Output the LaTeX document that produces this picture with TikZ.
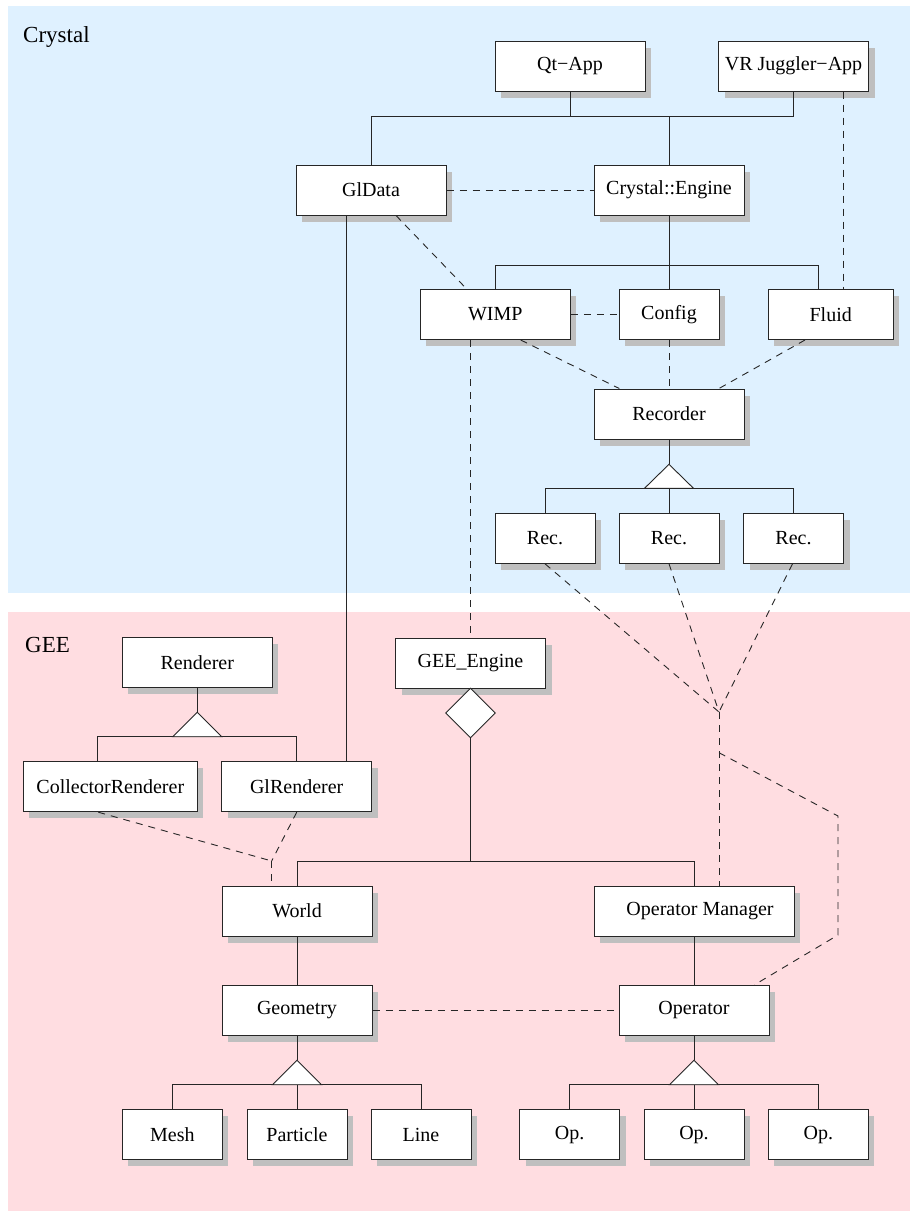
\documentclass[tikz,border=0pt]{standalone}
\usepackage{fontspec}
\setmainfont{Liberation Serif}
\usetikzlibrary{shapes.geometric}
\definecolor{crystalbg}{RGB}{223,241,255}
\definecolor{geebg}{RGB}{255,221,225}
\definecolor{shadowgray}{RGB}{191,191,191}
\tikzset{
  box/.style={draw=black!85, line width=1pt, fill=white, minimum height=50pt,
    minimum width=150pt, inner sep=0pt, font=\fontsize{20}{24}\selectfont,
    preaction={fill=shadowgray, transform canvas={xshift=6pt,yshift=-6.5pt}}},
  conn/.style={line width=0.9pt, draw=black!85},
  dep/.style={conn, dash pattern=on 7pt off 6pt},
  inh/.style={conn, fill=white},
  region/.style={font=\fontsize{23}{27}\selectfont, anchor=base west, inner sep=0pt}
}
\begin{document}
\begin{tikzpicture}[x=1pt,y=-1pt]
\useasboundingbox (0,0) rectangle (910,1211);
\fill[crystalbg] (8,6) rectangle (910,592.7);
\fill[geebg] (8,612) rectangle (910,1211);
\node[region] (crystal) at (23,42.3) {Crystal};
\node[region] (gee) at (25,652.7) {GEE};

% Crystal nodes
\node[box] (qt) at (570,66) {Qt\char"2212 App};
\node[box] (vr) at (793.5,66) {VR Juggler\char"2212 App};
\node[box] (gldata) at (371,190) {GlData};
\node[box] (ceng) at (669,190) {Crystal::Engine};
\node[box] (wimp) at (495.3,314.5) {WIMP};
\node[box, minimum width=100pt] (config) at (669,314.5) {Config};
\node[box, minimum width=125pt] (fluid) at (830.7,314.5) {Fluid};
\node[box] (recorder) at (669,414) {Recorder};
\node[box, minimum width=100pt] (rec1) at (545,538.3) {Rec.};
\node[box, minimum width=100pt] (rec2) at (669,538.3) {Rec.};
\node[box, minimum width=100pt] (rec3) at (793.5,538.3) {Rec.};

% GEE nodes
\node[box] (renderer) at (197.3,662.5) {Renderer};
\node[box, minimum width=174pt] (collr) at (110.3,786.7) {CollectorRenderer};
\node[box] (glr) at (296.7,786.7) {GlRenderer};
\node[box] (geeeng) at (470.5,663) {GEE\_Engine};
\node[diamond, conn, fill=white, minimum width=50pt, minimum height=50pt, inner sep=0pt] (dia) at (470.5,713) {};
\node[box] (world) at (297,911) {World};
\node[box, minimum width=200pt] (opmgr) at (694,911) {\hspace{12pt}Operator Manager};
\node[box] (geometry) at (297,1010.3) {Geometry};
\node[box] (operator) at (694,1010.3) {Operator};
\node[box, minimum width=100pt] (mesh) at (172.4,1134.5) {Mesh};
\node[box, minimum width=100pt] (particle) at (297,1134.5) {Particle};
\node[box, minimum width=100pt] (line) at (421,1134.5) {Line};
\node[box, minimum width=100pt] (op1) at (569.7,1134.5) {Op.};
\node[box, minimum width=100pt] (op2) at (694,1134.5) {Op.};
\node[box, minimum width=100pt] (op3) at (818.3,1134.5) {Op.};

% helper coordinates
\coordinate (bus1) at (669,116);
\coordinate (bus2) at (669,265);
\coordinate (ta1) at (669,464.3);
\coordinate (tb1) at (669,488.3);
\coordinate (ta2) at (197.3,712.3);
\coordinate (tb2) at (197.3,736.7);
\coordinate (bus3) at (470.5,861);
\coordinate (ta3) at (297,1060.3);
\coordinate (tb3) at (297,1084.7);
\coordinate (ta4) at (694,1060.3);
\coordinate (tb4) at (694,1084.7);
\coordinate (m1) at (719,712);
\coordinate (m2) at (719,752.7);
\coordinate (m3) at (838,816);
\coordinate (m4) at (838,935);
\coordinate (m5) at (271.7,861);

% solid connectors
\draw[conn] (gldata.north) |- (vr.south |- bus1) -- (vr.south);
\draw[conn] (qt.south) -- (qt.south |- bus1);
\draw[conn] (ceng.north) -- (bus1);
\draw[conn] (ceng.south) -- (config.north);
\draw[conn] (wimp.north) |- ([xshift=-12.4pt]fluid.north |- bus2) -- ([xshift=-12.4pt]fluid.north);
\draw[conn] (recorder.south) -- (ta1);
\draw[conn] (rec1.north) |- (rec3.north |- tb1) -- (rec3.north);
\draw[conn] (tb1) -- (rec2.north);
\draw[inh] (ta1) -- ++(-24.5,24) -- ++(49,0) -- cycle;

\draw[conn] ([xshift=-24.7pt]gldata.south) -- ([xshift=-24.7pt]gldata.south |- glr.north);
\draw[conn] (renderer.south) -- (ta2);
\draw[conn] ([xshift=-12.6pt]collr.north) |- (glr.north |- tb2) -- (glr.north);
\draw[inh] (ta2) -- ++(-24.5,24.4) -- ++(49,0) -- cycle;

\draw[conn] (dia.south) -- (bus3);
\draw[conn] (world.north) |- (bus3) -| (opmgr.north);
\draw[conn] (world.south) -- (geometry.north);
\draw[conn] (opmgr.south) -- (operator.north);
\draw[conn] (geometry.south) -- (ta3);
\draw[conn] (mesh.north) |- (line.north |- tb3) -- (line.north);
\draw[conn] (tb3) -- (particle.north);
\draw[inh] (ta3) -- ++(-24.5,24.4) -- ++(49,0) -- cycle;
\draw[conn] (operator.south) -- (ta4);
\draw[conn] (op1.north) |- (op3.north |- tb4) -- (op3.north);
\draw[conn] (tb4) -- (op2.north);
\draw[inh] (ta4) -- ++(-24.5,24.4) -- ++(49,0) -- cycle;

% dashed connectors
\draw[dep] (gldata.east) -- (ceng.west);
\draw[dep] ([xshift=25pt]gldata.south) -- ([xshift=-28.6pt]wimp.north);
\draw[dep] (wimp.east) -- (config.west);
\draw[dep] ([xshift=49.5pt]vr.south) -- ([xshift=12.3pt]fluid.north);
\draw[dep] ([xshift=25.4pt]wimp.south) -- ([xshift=-49.7pt]recorder.north);
\draw[dep] (config.south) -- (recorder.north);
\draw[dep] ([xshift=-25.7pt]fluid.south) -- ([xshift=50pt]recorder.north);
\draw[dep] (wimp.south -| geeeng.north) -- (geeeng.north);
\draw[dep] (rec1.south) -- (m1);
\draw[dep] (rec2.south) -- (m1);
\draw[dep] ([xshift=-1pt]rec3.south) -- (m1);
\draw[dep] (m1) -- (opmgr.north -| m1);
\draw[dep] (m2) -- (m3) -- (m4) -- ([xshift=60.5pt]operator.north);
\draw[dep] ([xshift=-12pt]collr.south) -- (m5);
\draw[dep] (glr.south) -- (m5);
\draw[dep] (m5) -- (world.north -| m5);
\draw[dep] (geometry.east) -- (operator.west);
\end{tikzpicture}
\end{document}
